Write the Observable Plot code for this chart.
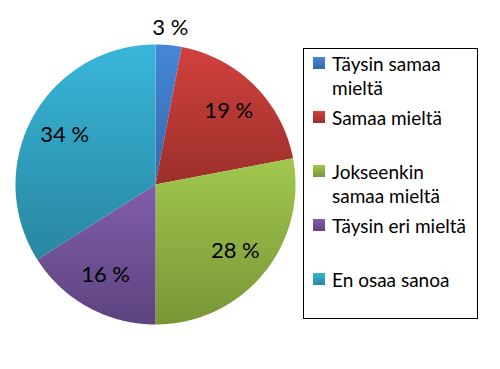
<!DOCTYPE html>
<html>
<head>
<meta charset="utf-8">
<script src="https://cdn.jsdelivr.net/npm/d3@7"></script>
<script src="https://cdn.jsdelivr.net/npm/@observablehq/plot@0.6"></script>
<style>
  html, body { margin: 0; padding: 0; background: #fff; }
  #wrap { position: relative; width: 500px; height: 369px; overflow: hidden; background: #fff; font-family: Lato, sans-serif; }
  #wrap svg { position: absolute; left: 0; top: 0; }
  #legend { position: absolute; left: 303px; top: 48px; width: 173px; height: 269px; border: 1px solid #000; box-sizing: content-box; }
  .item { position: absolute; left: 9px; width: 160px; height: 54px; }
  .sw { position: absolute; left: 0; width: 12px; height: 12px; }
  .tx { position: absolute; left: 19px; width: 142px; font-size: 19px; line-height: 24px; color: #000; }
</style>
</head>
<body>
<div id="wrap"><div id="legend"></div></div>
<script>
const categories = ["Täysin samaa mieltä", "Samaa mieltä", "Jokseenkin samaa mieltä", "Täysin eri mieltä", "En osaa sanoa"];
const values = [3, 19, 28, 16, 34];
const valueLabels = ["3 %", "19 %", "28 %", "16 %", "34 %"];
const colorsTop = ["#4687d6", "#d0413d", "#a0c74e", "#805ea9", "#38b6da"];
const colorsBottom = ["#3468ad", "#9c2f2b", "#7a9637", "#5d4380", "#2986a0"];

const total = d3.sum(values);
let cum = 0;
const slices = values.map((v, i) => {
  const a0 = cum / total * 2 * Math.PI;
  cum += v;
  const a1 = cum / total * 2 * Math.PI;
  return {i, a0, a1};
});

// polygon points for each slice (angles measured clockwise from 12 o'clock)
const pts = [];
for (const s of slices) {
  pts.push({i: s.i, x: 0, y: 0});
  const n = Math.max(2, Math.ceil((s.a1 - s.a0) / (Math.PI / 360)));
  for (let k = 0; k <= n; k++) {
    const a = s.a0 + (s.a1 - s.a0) * k / n;
    pts.push({i: s.i, x: Math.sin(a), y: Math.cos(a)});
  }
  pts.push({i: s.i, x: 0, y: 0});
}

const labelData = slices.map(s => {
  const m = (s.a0 + s.a1) / 2;
  const r = values[s.i] < 5 ? 1.12 : 0.74;
  return {x: r * Math.sin(m), y: r * Math.cos(m), label: valueLabels[s.i]};
});

const chart = Plot.plot({
  width: 500,
  height: 369,
  marginLeft: 15,
  marginRight: 205,
  marginTop: 44,
  marginBottom: 45,
  x: {domain: [-1, 1], axis: null},
  y: {domain: [-1, 1], axis: null},
  style: {background: "transparent", overflow: "visible"},
  marks: [
    ...slices.map(s => Plot.line(pts.filter(p => p.i === s.i), {
      x: "x", y: "y", fill: `url(#g${s.i})`, stroke: "none"
    })),
    Plot.text(labelData, {
      x: "x", y: "y", text: "label",
      fontSize: 22, fontFamily: "Lato, sans-serif", fill: "#000"
    })
  ]
});

const ns = "http://www.w3.org/2000/svg";
const defs = document.createElementNS(ns, "defs");
values.forEach((v, i) => {
  const g = document.createElementNS(ns, "linearGradient");
  g.setAttribute("id", `g${i}`);
  g.setAttribute("x1", "0"); g.setAttribute("y1", "0");
  g.setAttribute("x2", "0"); g.setAttribute("y2", "1");
  const s0 = document.createElementNS(ns, "stop");
  s0.setAttribute("offset", "0"); s0.setAttribute("stop-color", colorsTop[i]);
  const s1 = document.createElementNS(ns, "stop");
  s1.setAttribute("offset", "1"); s1.setAttribute("stop-color", colorsBottom[i]);
  g.appendChild(s0); g.appendChild(s1);
  defs.appendChild(g);
});
chart.insertBefore(defs, chart.firstChild);
document.getElementById("wrap").insertBefore(chart, document.getElementById("legend"));

// legend
const legend = document.getElementById("legend");
categories.forEach((c, i) => {
  const item = document.createElement("div");
  item.className = "item";
  item.style.top = (3 + i * 54) + "px";
  const sw = document.createElement("div");
  sw.className = "sw";
  sw.style.top = "5px";
  sw.style.background = `linear-gradient(${colorsTop[i]}, ${colorsBottom[i]})`;
  const tx = document.createElement("div");
  tx.className = "tx";
  tx.style.top = "0px";
  tx.textContent = c;
  item.appendChild(sw);
  item.appendChild(tx);
  legend.appendChild(item);
});
</script>
</body>
</html>
